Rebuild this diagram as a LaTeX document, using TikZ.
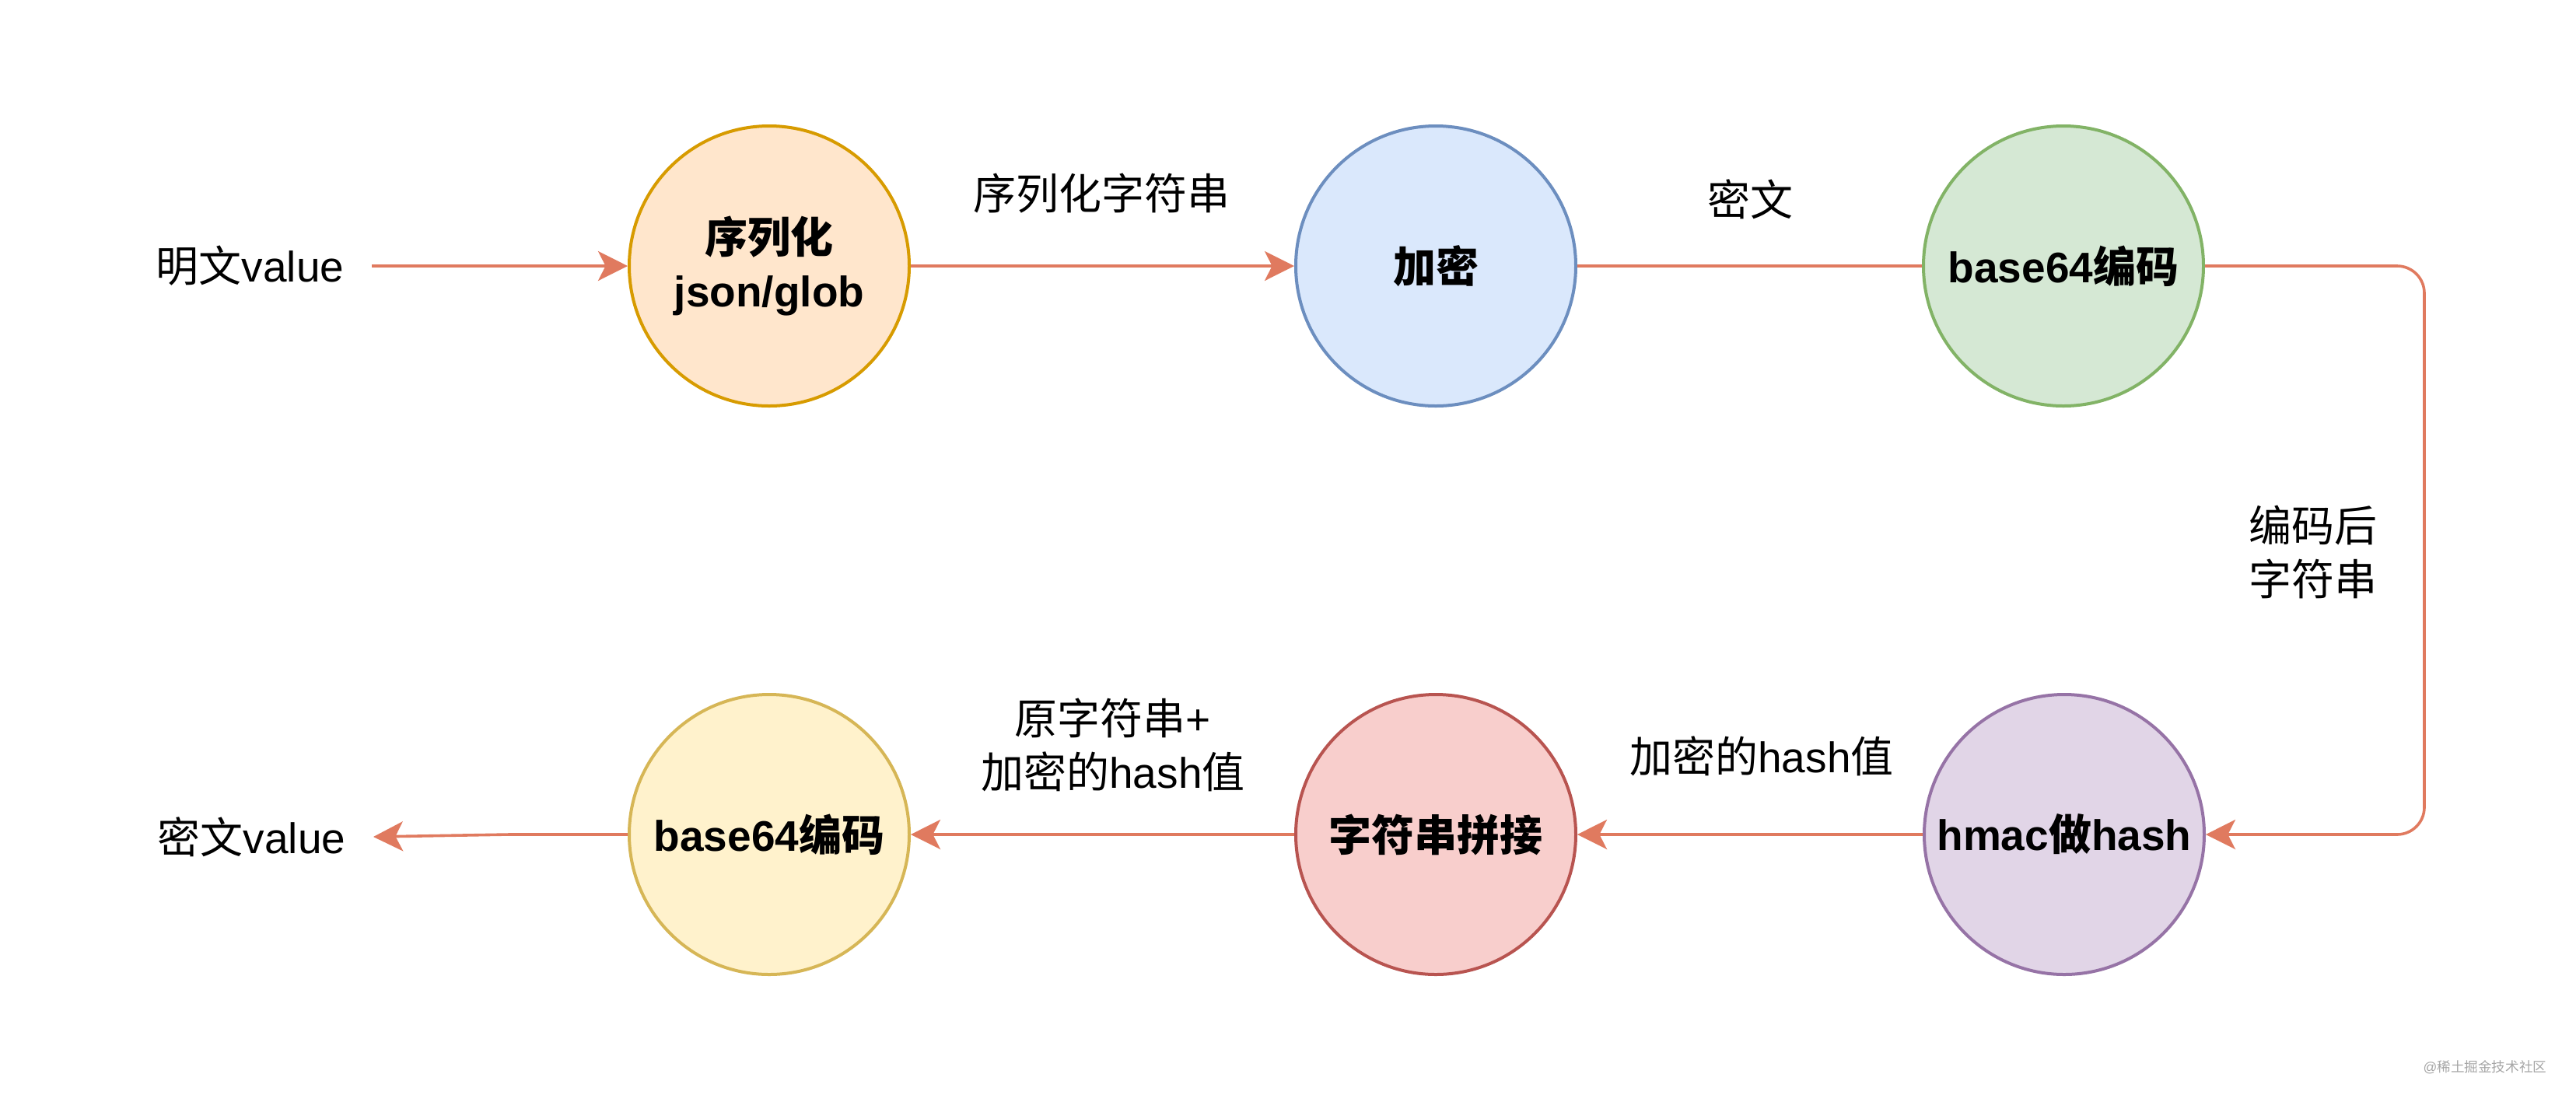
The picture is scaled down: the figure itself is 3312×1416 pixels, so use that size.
\documentclass[tikz,border=0pt]{standalone}
\usepackage{fontspec}
\setmainfont{Liberation Sans}
\newfontfamily\cjk{Noto Sans CJK SC}
\usetikzlibrary{arrows.meta}
\newcommand\zh[1]{{\cjk #1}}
\definecolor{arrowc}{HTML}{E07A5F}
\definecolor{f1}{HTML}{FFE6CC}\definecolor{s1}{HTML}{D79B00}
\definecolor{f2}{HTML}{DAE8FC}\definecolor{s2}{HTML}{6C8EBF}
\definecolor{f3}{HTML}{D5E8D4}\definecolor{s3}{HTML}{82B366}
\definecolor{f4}{HTML}{E1D5E7}\definecolor{s4}{HTML}{9673A6}
\definecolor{f5}{HTML}{F8CECC}\definecolor{s5}{HTML}{B85450}
\definecolor{f6}{HTML}{FFF2CC}\definecolor{s6}{HTML}{D6B656}
\begin{document}
\begin{tikzpicture}[x=0.25pt,y=-0.25pt,
  proc/.style={circle, draw, line width=1pt, minimum size=90pt, inner sep=0pt, align=center,
    font=\fontsize{13.75pt}{17.25pt}\selectfont\bfseries},
  lbl/.style={align=center, inner sep=0pt, font=\fontsize{13.75pt}{17.25pt}\selectfont},
  endlbl/.style={lbl, inner xsep=8.75pt},
  link/.style={draw=arrowc, line width=0.9pt},
  arr/.style={link, -{Stealth[length=9.5pt,width=9.5pt,inset=2.4pt]}},
  wmark/.style={inner sep=0pt, text=black!35, font=\fontsize{4.4pt}{5pt}\selectfont}]
\useasboundingbox (0,0) rectangle (3312,1416);
\fill[white] (0,0) rectangle (3312,1416);

% process circles
\node[proc, fill=f1, draw=s1] (C1) at (989,342) {\zh{序列化}\\json/glob};
\node[proc, fill=f2, draw=s2] (C2) at (1846,342) {\zh{加密}};
\node[proc, fill=f3, draw=s3] (C3) at (2653,342) {base64\zh{编码}};
\node[proc, fill=f4, draw=s4] (C4) at (2654,1073) {hmac\zh{做}hash};
\node[proc, fill=f5, draw=s5] (C5) at (1846,1073) {\zh{字符串拼接}};
\node[proc, fill=f6, draw=s6] (C6) at (989,1073) {base64\zh{编码}};

% end labels
\node[endlbl, anchor=east] (IN) at (478,342) {\zh{明文}value};
\node[endlbl, anchor=east] (OUT) at (480,1076) {\zh{密文}value};

% edge labels
\node[lbl] (L1) at (1416,249) {\zh{序列化字符串}};
\node[lbl] (L2) at (2250,256) {\zh{密文}};
\node[lbl] (L3) at (2974,710) {\zh{编码后}\\\zh{字符串}};
\node[lbl] (L4) at (2265,972) {\zh{加密的}hash\zh{值}};
\node[lbl] (L5) at (1431,958) {\zh{原字符串}+\\\zh{加密的}hash\zh{值}};

% helper coordinates
\coordinate (TR) at (3117,342);
\coordinate (BR) at (3117,1073);
\coordinate (BEND) at (655,1073);

% connectors
\draw[arr] (IN.east) -- (C1.west);
\draw[arr] (C1.east) -- (C2.west);
\draw[link] (C2.east) -- (C3.west);
\draw[arr, rounded corners=8.75pt] (C3.east) -- (TR) -- (BR) -- (C4.east);
\draw[arr] (C4.west) -- (C5.east);
\draw[arr] (C5.west) -- (C6.east);
\draw[arr] (C6.west) -- (BEND) -- (OUT.east);

% watermark
\node[wmark] (WM) at (3195,1372) {@\zh{稀土掘金技术社区}};
\end{tikzpicture}
\end{document}
